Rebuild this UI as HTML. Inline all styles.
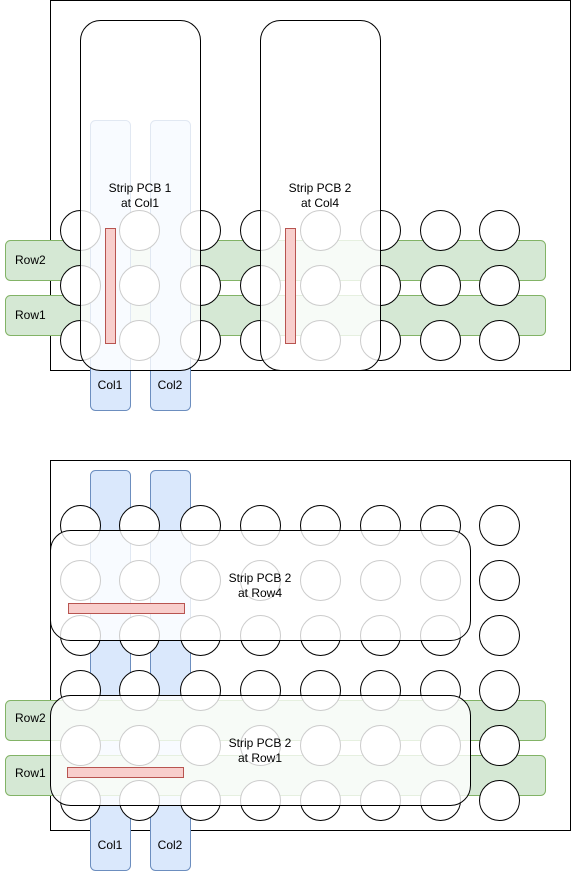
<!DOCTYPE html>
<html><head><meta charset="utf-8"><style>
html,body{margin:0;padding:0;background:#fff;}
svg{display:block;font-family:"Liberation Sans",Arial,sans-serif;font-size:12px;}
</style></head><body>
<svg width="571" height="871" viewBox="0 0 571 871" xmlns="http://www.w3.org/2000/svg">
<defs>
<g id="c"><circle r="20" fill="#fff" stroke="#000" stroke-width="1"/></g>
</defs>
<!-- ===== TOP ===== -->
<rect x="50.5" y="0.5" width="520" height="370" fill="#fff" stroke="#000"/>
<rect x="5.5" y="240.5" width="540" height="40" rx="5" fill="#d5e8d4" stroke="#82b366"/>
<rect x="5.5" y="295.5" width="540" height="40" rx="5" fill="#d5e8d4" stroke="#82b366"/>
<rect x="90.5" y="120.5" width="40" height="290" rx="5" fill="#dae8fc" stroke="#6c8ebf"/>
<rect x="150.5" y="120.5" width="40" height="290" rx="5" fill="#dae8fc" stroke="#6c8ebf"/>
<g>
<use href="#c" x="80.5" y="230.5"/><use href="#c" x="139.5" y="230.5"/><use href="#c" x="200.5" y="230.5"/><use href="#c" x="260.5" y="230.5"/><use href="#c" x="320.5" y="230.5"/><use href="#c" x="380.5" y="230.5"/><use href="#c" x="440.5" y="230.5"/><use href="#c" x="499.5" y="230.5"/>
<use href="#c" x="80.5" y="285.5"/><use href="#c" x="139.5" y="285.5"/><use href="#c" x="200.5" y="285.5"/><use href="#c" x="260.5" y="285.5"/><use href="#c" x="320.5" y="285.5"/><use href="#c" x="380.5" y="285.5"/><use href="#c" x="440.5" y="285.5"/><use href="#c" x="499.5" y="285.5"/>
<use href="#c" x="80.5" y="340.5"/><use href="#c" x="139.5" y="340.5"/><use href="#c" x="200.5" y="340.5"/><use href="#c" x="260.5" y="340.5"/><use href="#c" x="320.5" y="340.5"/><use href="#c" x="380.5" y="340.5"/><use href="#c" x="440.5" y="340.5"/><use href="#c" x="499.5" y="340.5"/>
</g>
<rect x="80.5" y="20.5" width="120" height="350" rx="20" fill="#fff" fill-opacity="0.8" stroke="#000"/>
<rect x="260.5" y="20.5" width="120" height="350" rx="20" fill="#fff" fill-opacity="0.8" stroke="#000"/>
<rect x="105.5" y="228.5" width="10" height="115" fill="#f8cecc" stroke="#b85450"/>
<rect x="285.5" y="228.5" width="10" height="115" fill="#f8cecc" stroke="#b85450"/>
<text x="140" y="192" text-anchor="middle">Strip PCB 1</text>
<text x="140" y="207" text-anchor="middle">at Col1</text>
<text x="320" y="192" text-anchor="middle">Strip PCB 2</text>
<text x="320" y="207" text-anchor="middle">at Col4</text>
<text x="15" y="264">Row2</text>
<text x="15" y="319">Row1</text>
<text x="110" y="389" text-anchor="middle">Col1</text>
<text x="170" y="389" text-anchor="middle">Col2</text>

<!-- ===== BOTTOM ===== -->
<rect x="50.5" y="460.5" width="520" height="370" fill="#fff" stroke="#000"/>
<rect x="90.5" y="470.5" width="40" height="400" rx="5" fill="#dae8fc" stroke="#6c8ebf"/>
<rect x="150.5" y="470.5" width="40" height="400" rx="5" fill="#dae8fc" stroke="#6c8ebf"/>
<rect x="5.5" y="700.5" width="540" height="40" rx="5" fill="#d5e8d4" stroke="#82b366"/>
<rect x="5.5" y="755.5" width="540" height="40" rx="5" fill="#d5e8d4" stroke="#82b366"/>
<g>
<use href="#c" x="80.5" y="525.5"/><use href="#c" x="139.5" y="525.5"/><use href="#c" x="200.5" y="525.5"/><use href="#c" x="260.5" y="525.5"/><use href="#c" x="320.5" y="525.5"/><use href="#c" x="380.5" y="525.5"/><use href="#c" x="440.5" y="525.5"/><use href="#c" x="499.5" y="525.5"/>
<use href="#c" x="80.5" y="580.5"/><use href="#c" x="139.5" y="580.5"/><use href="#c" x="200.5" y="580.5"/><use href="#c" x="260.5" y="580.5"/><use href="#c" x="320.5" y="580.5"/><use href="#c" x="380.5" y="580.5"/><use href="#c" x="440.5" y="580.5"/><use href="#c" x="499.5" y="580.5"/>
<use href="#c" x="80.5" y="635.5"/><use href="#c" x="139.5" y="635.5"/><use href="#c" x="200.5" y="635.5"/><use href="#c" x="260.5" y="635.5"/><use href="#c" x="320.5" y="635.5"/><use href="#c" x="380.5" y="635.5"/><use href="#c" x="440.5" y="635.5"/><use href="#c" x="499.5" y="635.5"/>
<use href="#c" x="80.5" y="690.5"/><use href="#c" x="139.5" y="690.5"/><use href="#c" x="200.5" y="690.5"/><use href="#c" x="260.5" y="690.5"/><use href="#c" x="320.5" y="690.5"/><use href="#c" x="380.5" y="690.5"/><use href="#c" x="440.5" y="690.5"/><use href="#c" x="499.5" y="690.5"/>
<use href="#c" x="80.5" y="745.5"/><use href="#c" x="139.5" y="745.5"/><use href="#c" x="200.5" y="745.5"/><use href="#c" x="260.5" y="745.5"/><use href="#c" x="320.5" y="745.5"/><use href="#c" x="380.5" y="745.5"/><use href="#c" x="440.5" y="745.5"/><use href="#c" x="499.5" y="745.5"/>
<use href="#c" x="80.5" y="800.5"/><use href="#c" x="139.5" y="800.5"/><use href="#c" x="200.5" y="800.5"/><use href="#c" x="260.5" y="800.5"/><use href="#c" x="320.5" y="800.5"/><use href="#c" x="380.5" y="800.5"/><use href="#c" x="440.5" y="800.5"/><use href="#c" x="499.5" y="800.5"/>
</g>
<rect x="50.5" y="530.5" width="420" height="110" rx="20" fill="#fff" fill-opacity="0.8" stroke="#000"/>
<rect x="50.5" y="695.5" width="420" height="110" rx="20" fill="#fff" fill-opacity="0.8" stroke="#000"/>
<rect x="68.5" y="603.5" width="116" height="10" fill="#f8cecc" stroke="#b85450"/>
<rect x="67.5" y="767.5" width="116" height="10" fill="#f8cecc" stroke="#b85450"/>
<text x="260" y="582" text-anchor="middle">Strip PCB 2</text>
<text x="260" y="597" text-anchor="middle">at Row4</text>
<text x="260" y="747" text-anchor="middle">Strip PCB 2</text>
<text x="260" y="762" text-anchor="middle">at Row1</text>
<text x="15" y="722">Row2</text>
<text x="15" y="777">Row1</text>
<text x="110" y="849" text-anchor="middle">Col1</text>
<text x="170" y="849" text-anchor="middle">Col2</text>
</svg>
</body></html>
